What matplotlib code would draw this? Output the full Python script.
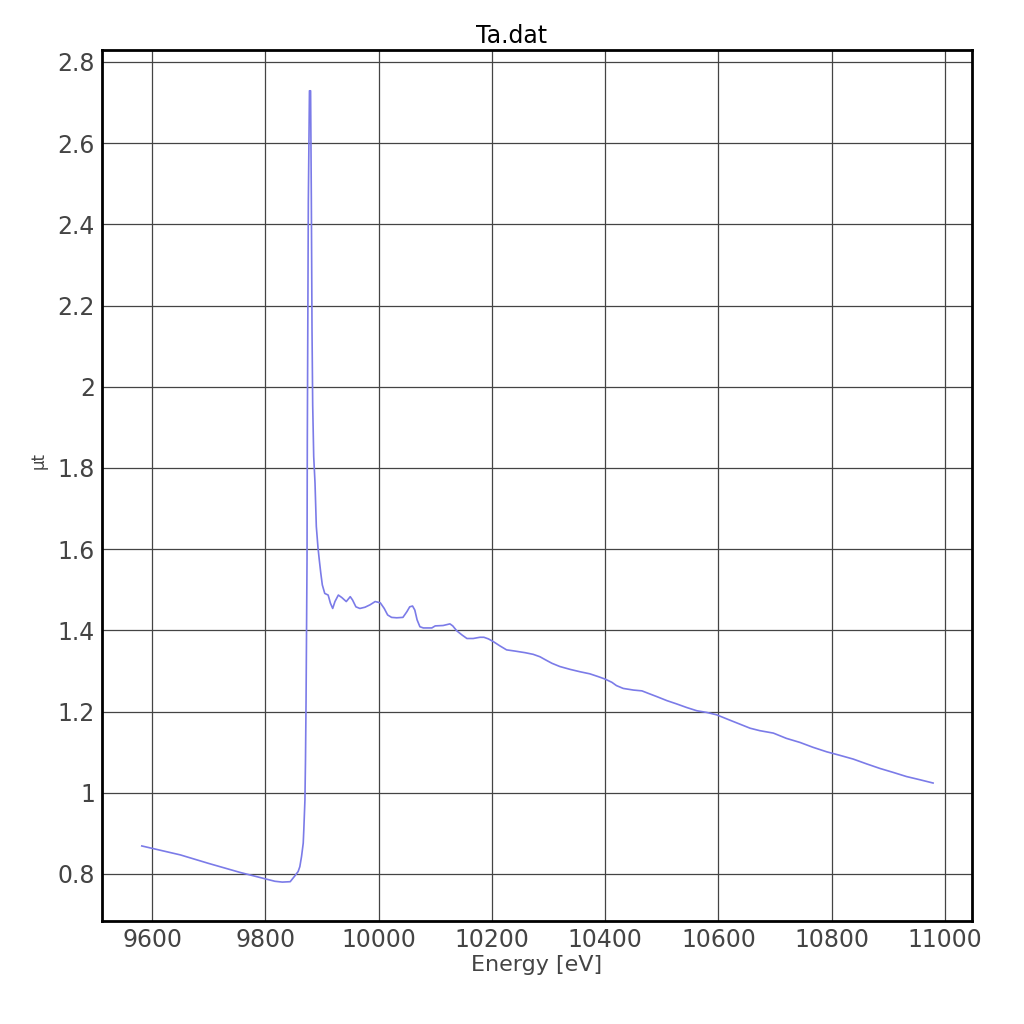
import numpy as np
import matplotlib.pyplot as plt

plt.rcParams['font.family'] = ['DejaVu Sans', 'Noto Sans CJK JP']

# Ta L-edge spectrum
energy = [9582, 9650, 9700, 9755, 9800, 9817, 9830, 9844, 9852, 9858, 9861, 9864,
          9867, 9868, 9870, 9871, 9872, 9873.7, 9874.2, 9876, 9878, 9880,
          9881.3, 9882.5, 9883.7, 9885.5, 9887.8, 9890.1, 9893.1, 9895.4, 9898,
          9900.7, 9905, 9911, 9915, 9919, 9923, 9929, 9935, 9943, 9950, 9954,
          9960, 9967, 9976, 9985, 9994, 10003, 10010, 10016, 10023, 10032, 10043,
          10050, 10055, 10060, 10064, 10068, 10073, 10079, 10094, 10100, 10114,
          10126, 10131, 10138, 10147, 10156, 10167, 10179, 10186, 10194, 10203,
          10214, 10226, 10241, 10259, 10273, 10285, 10294, 10306, 10320, 10338,
          10356, 10373, 10388, 10400, 10412, 10420, 10432, 10450, 10465, 10476,
          10491, 10509, 10526, 10544, 10562, 10579, 10597, 10620, 10638, 10656,
          10673, 10697, 10720, 10744, 10767, 10791, 10815, 10838, 10862, 10885,
          10909, 10932, 10956, 10979]
mut = [0.869, 0.847, 0.826, 0.804, 0.788, 0.782, 0.780, 0.781, 0.795, 0.806, 0.818, 0.843,
       0.876, 0.908, 0.982, 1.081, 1.229, 1.573, 1.862, 2.456, 2.729, 2.729,
       2.465, 2.14, 1.955, 1.828, 1.763, 1.656, 1.603, 1.573, 1.541,
       1.512, 1.491, 1.487, 1.467, 1.454, 1.471, 1.487, 1.481, 1.471, 1.483, 1.475,
       1.458, 1.454, 1.457, 1.463, 1.471, 1.468, 1.454, 1.438, 1.432, 1.431, 1.432,
       1.446, 1.458, 1.460, 1.450, 1.426, 1.409, 1.406, 1.406, 1.411, 1.412,
       1.416, 1.411, 1.399, 1.389, 1.380, 1.380, 1.383, 1.383, 1.379, 1.372,
       1.362, 1.352, 1.349, 1.345, 1.341, 1.335, 1.328, 1.319, 1.311, 1.304,
       1.298, 1.293, 1.286, 1.280, 1.272, 1.264, 1.257, 1.253, 1.251, 1.245,
       1.237, 1.227, 1.219, 1.210, 1.202, 1.198, 1.192, 1.179, 1.169, 1.159,
       1.153, 1.147, 1.134, 1.124, 1.112, 1.101, 1.092, 1.083, 1.071, 1.060,
       1.050, 1.040, 1.032, 1.024]

xticks = [9600, 9800, 10000, 10200, 10400, 10600, 10800, 11000]
yticks = [0.8, 1.0, 1.2, 1.4, 1.6, 1.8, 2.0, 2.2, 2.4, 2.6, 2.8]
ytick_labels = ['0.8', '1', '1.2', '1.4', '1.6', '1.8', '2', '2.2', '2.4', '2.6', '2.8']

fig = plt.figure(figsize=(10.24, 10.24), dpi=100)
ax = fig.add_axes([0.0996, 0.1006, 0.8496, 0.8506])
ax.plot(energy, mut, color='#7b7be8', lw=1.2)

ax.set_xlim(9511.7, 11047.7)
ax.set_ylim(0.6842, 2.8296)
ax.set_xticks(xticks)
ax.set_yticks(yticks)
ax.set_yticklabels(ytick_labels)
ax.grid(True, color='#444444', lw=0.9)
ax.set_axisbelow(True)
ax.tick_params(length=0, labelsize=17, labelcolor='#444444', pad=5)
for s in ax.spines.values():
    s.set_linewidth(2)
    s.set_color('black')

ax.set_xlabel('Energy [eV]', fontsize=16, color='#444444', labelpad=2)
ax.set_ylabel('μt', fontsize=12, color='#444444')
ax.yaxis.set_label_coords(-0.062, 0.529)
fig.text(0.5, 0.953, 'Ta.dat', fontsize=17, color='black', ha='center', va='bottom')

fig.savefig('out.png', dpi=100)
